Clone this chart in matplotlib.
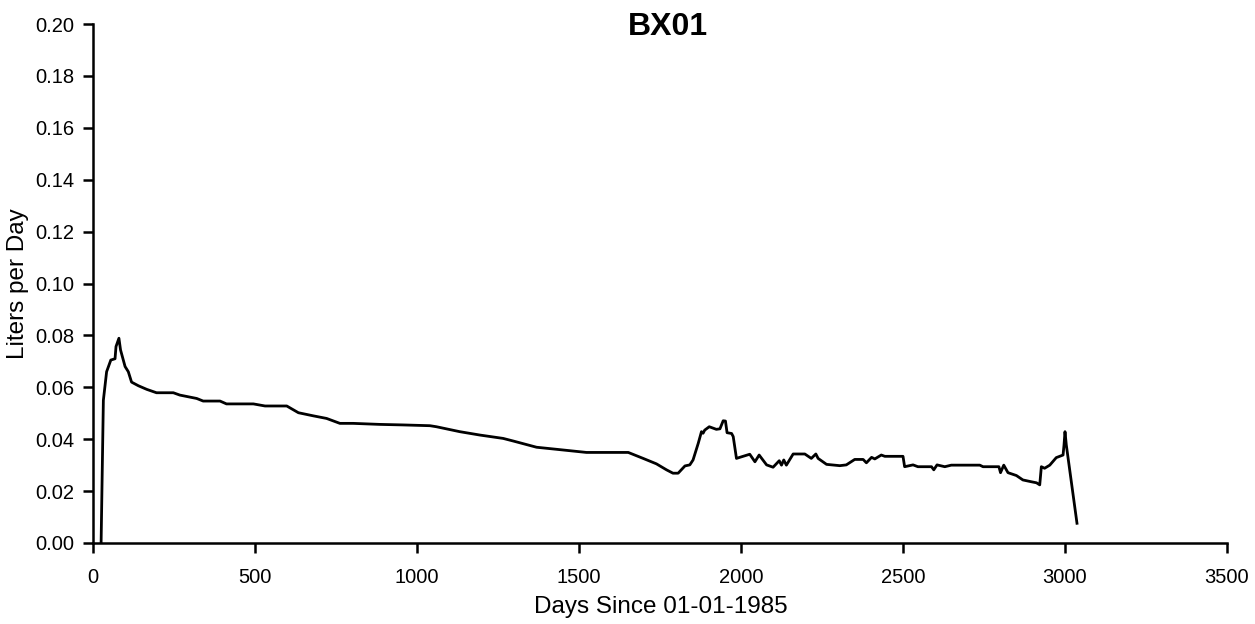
import matplotlib
matplotlib.use("Agg")
import matplotlib.pyplot as plt

plt.rcParams['font.family'] = ['Liberation Sans', 'DejaVu Sans']

days = [25, 32, 42, 55, 68, 71, 80, 85, 99, 109, 119, 140, 166, 196, 248, 268,
        320, 340, 392, 412, 495, 531, 598, 634, 680, 721, 762, 803, 886, 957,
        1040, 1060, 1132, 1194, 1266, 1297, 1369, 1431, 1523, 1652, 1698, 1739,
        1770, 1790, 1806, 1827, 1842, 1852, 1868, 1878, 1883, 1888, 1902, 1924,
        1935, 1945, 1952, 1957, 1971, 1976, 1986, 1996, 2027, 2043, 2056, 2079,
        2099, 2118, 2125, 2132, 2140, 2161, 2197, 2217, 2231, 2238, 2264, 2305,
        2325, 2351, 2377, 2387, 2403, 2413, 2433, 2444, 2500, 2505, 2531, 2546,
        2588, 2595, 2605, 2629, 2649, 2737, 2747, 2796, 2801, 2811, 2824, 2850,
        2870, 2896, 2912, 2922, 2927, 2937, 2953, 2973, 2994, 2997, 3000, 3004,
        3037]
liters = [0.0, 0.055, 0.066, 0.0705, 0.071, 0.0757, 0.0789, 0.0744, 0.068, 0.066,
          0.062, 0.0606, 0.0592, 0.0579, 0.0579, 0.057, 0.0557, 0.0547, 0.0547,
          0.0536, 0.0536, 0.0528, 0.0528, 0.0502, 0.049, 0.048, 0.0461, 0.0461,
          0.0457, 0.0455, 0.0452, 0.0448, 0.0429, 0.0416, 0.0403, 0.0393, 0.0369,
          0.0361, 0.0349, 0.0349, 0.0326, 0.0305, 0.0282, 0.0269, 0.0269, 0.0297,
          0.0301, 0.032, 0.0384, 0.0429, 0.0423, 0.0435, 0.0448, 0.0438, 0.044,
          0.0471, 0.047, 0.0425, 0.0422, 0.041, 0.0326, 0.033, 0.0342, 0.0313,
          0.0339, 0.0301, 0.0292, 0.0317, 0.030, 0.032, 0.030, 0.0343, 0.0343,
          0.0326, 0.0343, 0.0326, 0.0303, 0.0298, 0.0301, 0.0322, 0.0322, 0.0309,
          0.033, 0.0324, 0.0339, 0.0334, 0.0334, 0.0294, 0.0301, 0.0294, 0.0294,
          0.0282, 0.0301, 0.0294, 0.030, 0.030, 0.0294, 0.0294, 0.0271, 0.030,
          0.0271, 0.026, 0.0243, 0.0236, 0.0232, 0.0224, 0.0294, 0.0288, 0.030,
          0.0329, 0.0339, 0.0378, 0.0429, 0.0378, 0.0076]

x_ticks = [0, 500, 1000, 1500, 2000, 2500, 3000, 3500]
y_ticks = [0.00, 0.02, 0.04, 0.06, 0.08, 0.10, 0.12, 0.14, 0.16, 0.18, 0.20]

title = "BX01"
xlabel = "Days Since 01-01-1985"
ylabel = "Liters per Day"

W, H = 1255, 624
fig = plt.figure(figsize=(W / 100, H / 100), dpi=100)
ax = fig.add_axes([93 / W, 1 - 543 / H, 1134 / W, 519 / H])

ax.plot(days, liters, color='black', linewidth=2.0)

ax.set_xlim(0, 3500)
ax.set_ylim(0, 0.20)
ax.set_xticks(x_ticks)
ax.set_xticklabels([str(t) for t in x_ticks])
ax.set_yticks(y_ticks)
ax.set_yticklabels([f"{t:.2f}" for t in y_ticks])

for s in ['top', 'right']:
    ax.spines[s].set_visible(False)
for s in ['left', 'bottom']:
    ax.spines[s].set_linewidth(1.8)

ax.tick_params(axis='both', direction='out', length=7.2, width=1.8, labelsize=14.5)
ax.tick_params(axis='x', pad=11)
ax.tick_params(axis='y', pad=6)

fig.text(668 / W, 1 - 35 / H, title, ha='center', va='baseline',
         fontsize=23, fontweight='bold')
fig.text(661 / W, 1 - 613 / H, xlabel, ha='center', va='baseline', fontsize=17.5)
fig.text(18 / W, 1 - 284 / H, ylabel, ha='center', va='center',
         rotation=90, fontsize=17.5)

fig.savefig("out.png", dpi=100)
